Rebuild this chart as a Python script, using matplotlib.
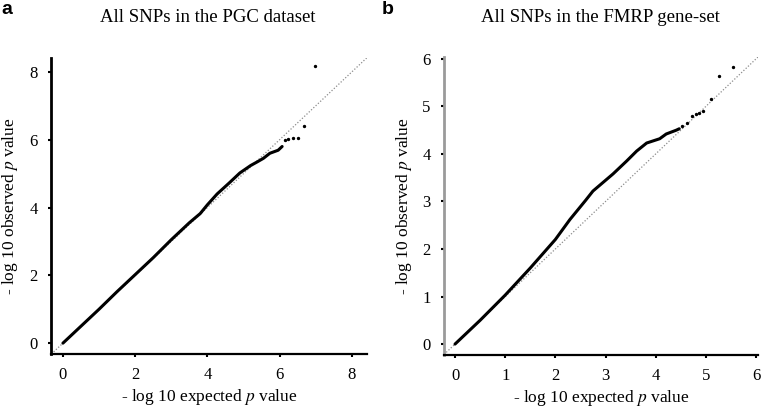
import numpy as np
import matplotlib
matplotlib.use("Agg")
import matplotlib.pyplot as plt

plt.rcParams['font.family'] = ['Liberation Serif', 'DejaVu Serif']
plt.rcParams['mathtext.fontset'] = 'stix'

# panel a: all SNPs in the PGC dataset
a_exp = [0, 0.5, 1.0, 1.5, 2.0, 2.5, 3.0, 3.5, 3.8, 4.0, 4.27, 4.6, 4.9, 5.2, 5.37, 5.55, 5.73, 5.96, 6.07]
a_obs = [0, 0.5, 1.0, 1.52, 2.02, 2.52, 3.05, 3.55, 3.82, 4.08, 4.4, 4.72, 5.02, 5.24, 5.34, 5.45, 5.6, 5.69, 5.8]
a_tail_exp = [6.15, 6.23, 6.37, 6.51, 6.68, 6.98]
a_tail_obs = [5.99, 6.02, 6.05, 6.05, 6.4, 8.17]
a_ticks = [0, 2, 4, 6, 8]

# panel b: all SNPs in the FMRP gene-set
b_exp = [0, 0.5, 1.0, 1.5, 2.0, 2.29, 2.6, 2.75, 3.15, 3.42, 3.62, 3.82, 4.08, 4.21, 4.41, 4.47]
b_obs = [0, 0.5, 1.03, 1.6, 2.2, 2.62, 3.02, 3.22, 3.58, 3.85, 4.06, 4.23, 4.32, 4.42, 4.5, 4.53]
b_tail_exp = [4.53, 4.63, 4.73, 4.81, 4.87, 4.95, 5.11, 5.27, 5.55]
b_tail_obs = [4.59, 4.65, 4.8, 4.84, 4.86, 4.9, 5.16, 5.64, 5.83]
b_ticks = [0, 1, 2, 3, 4, 5, 6]

fig = plt.figure(figsize=(7.62, 4.09), dpi=100)
W, H = 762.0, 409.0
axa = fig.add_axes([51 / W, (H - 354) / H, (367 - 51) / W, (354 - 58) / H])
axb = fig.add_axes([444 / W, (H - 355) / H, (758 - 444) / W, (355 - 57) / H])

panels = [
    (axa, a_exp, a_obs, a_tail_exp, a_tail_obs, a_ticks, (-0.33, 8.42), (-0.32, 8.41), "black"),
    (axb, b_exp, b_obs, b_tail_exp, b_tail_obs, b_ticks, (-0.22, 6.04), (-0.23, 6.04), "#9a9a9a"),
]

for ax, ex, ob, tex, tob, ticks, xl, yl, ycol in panels:
    ax.axline((0, 0), slope=1, color="#8c8c8c", linestyle=(0, (1, 1.5)), linewidth=0.9, zorder=1)
    ax.plot(ex, ob, color="black", linewidth=2.2, solid_capstyle="round", zorder=3)
    ax.scatter(tex, tob, s=2, color="black", zorder=3)
    ax.set_xlim(*xl)
    ax.set_ylim(*yl)
    ax.set_xticks(ticks)
    ax.set_yticks(ticks)
    ax.spines['top'].set_visible(False)
    ax.spines['right'].set_visible(False)
    ax.spines['left'].set_color(ycol)
    ax.spines['left'].set_linewidth(2.0)
    ax.spines['bottom'].set_linewidth(1.6)
    ax.tick_params(direction="out", length=2.5, width=1.5, labelsize=12, pad=7)
    ax.set_xlabel("- log 10 expected $\\mathit{p}$ value", fontsize=12.5, labelpad=3)
    ax.set_ylabel("- log 10 observed $\\mathit{p}$ value", fontsize=12.5, labelpad=4)

axa.yaxis.set_label_coords(-0.098, 0.5)
axb.yaxis.set_label_coords(-0.095, 0.5)

fig.text(208 / W, 1 - 17 / H, "All SNPs in the PGC dataset", fontsize=13.5, ha="center", va="center")
fig.text(600 / W, 1 - 17 / H, "All SNPs in the FMRP gene-set", fontsize=13.5, ha="center", va="center")
fig.text(1 / W, 1 - 10 / H, "a", fontsize=14, fontweight="bold", family="Liberation Sans", ha="left", va="center")
fig.text(382 / W, 1 - 10 / H, "b", fontsize=14, fontweight="bold", family="Liberation Sans", ha="left", va="center")

fig.savefig("out.png", dpi=100)
